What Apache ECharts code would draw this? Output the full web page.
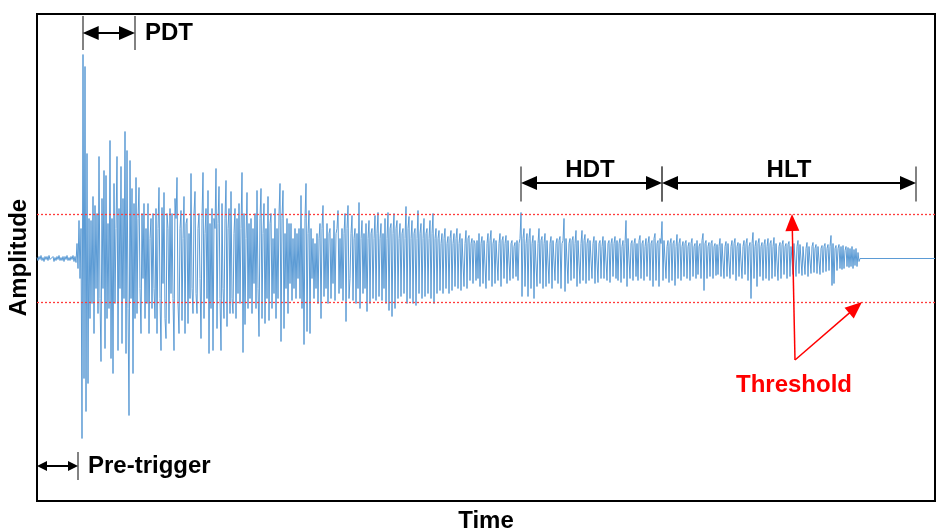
<!DOCTYPE html>
<html>
<head>
<meta charset="utf-8">
<script src="https://cdn.jsdelivr.net/npm/echarts@6/dist/echarts.min.js"></script>
<style>html,body{margin:0;padding:0;background:#fff}#c{width:937px;height:531px}</style>
</head>
<body>
<div id="c"></div>
<script>
// time step between samples (time units)
const sampleStep = 1;
// amplitude samples (arbitrary units, 0 = baseline), one per time step
const amplitude = [
  1,-2,2,-1,3,-2,1,-3,2,-1,2,-2,3,-1,1,-2,2,-3,1,-2,
  2,-1,3,-2,1,-2,2,-3,2,-1,3,-2,1,-2,2,-1,3,-3,2,-4,
  15,-10,38,-20,30,-180,204,-120,192,-153,105,-125,40,-60,38,-45,62,-75,53,-30,
  45,-55,102,-40,-103,60,-30,88,-90,83,-60,35,-50,118,-100,40,-115,75,-45,30,
  102,-92,50,-30,92,-85,60,-40,127,-95,108,-50,-157,98,-40,70,-115,55,-60,81,
  -55,40,71,-30,-75,45,-20,55,-60,30,-45,55,-75,20,40,-50,45,-30,-60,50,
  -75,30,71,-40,-92,51,-25,66,-60,-80,45,30,-65,50,-35,45,-40,-92,60,40,
  81,-45,-75,30,48,-62,20,62,-75,35,40,-65,25,-40,85,-30,-55,45,67,-35,
  -55,30,45,-20,-80,40,86,-60,25,50,-40,68,-95,35,-50,50,-92,40,30,90,
  -70,35,72,-40,-92,55,-30,-60,40,78,-68,30,50,-55,67,-40,-55,25,50,-60,
  40,-35,55,-45,30,86,-94,45,-66,20,66,-50,35,-40,40,-55,30,-25,45,-50,
  68,-30,-78,40,70,-60,25,55,-65,30,-40,62,-62,35,45,-50,20,-35,50,-60,
  30,-40,45,75,-83,40,68,-70,25,-30,40,-55,35,-25,35,-42,20,-30,30,-40,
  25,-20,30,-40,63,-50,30,-86,40,75,-73,25,48,-75,30,-20,20,-40,15,-30,
  25,-45,20,35,-60,30,53,-38,20,-30,35,-45,25,30,-40,20,-25,38,-42,25,
  30,48,-35,20,-30,30,-42,25,45,-63,30,53,-40,-20,25,43,-42,20,30,-45,
  25,-30,56,-50,20,38,-35,25,-30,35,-53,20,38,-45,25,30,-40,20,43,-42,
  25,46,-38,20,35,-42,25,-30,40,-45,20,46,-52,30,35,-58,25,45,-50,30,
  38,-40,20,35,-38,25,30,-35,20,52,-45,30,42,-40,20,38,-45,25,30,-47,
  20,48,-35,25,35,-40,20,40,-38,25,30,-35,20,38,-40,25,45,-45,20,30,
  -35,20,28,-32,15,25,-35,20,30,-30,15,22,-35,20,28,-32,15,25,-28,20,
  30,-30,15,25,-32,20,22,-28,15,28,-30,20,23,-22,15,20,-25,18,15,-22,
  18,-20,25,-28,15,22,-25,18,20,-30,15,25,-22,18,28,-28,15,20,-25,18,
  20,-22,15,25,-28,18,22,-20,15,23,-25,18,20,-22,15,18,-20,12,16,-18,
  18,-22,15,20,46,-38,20,30,-28,15,25,-38,20,30,-30,15,23,-40,18,20,
  -28,15,30,-25,18,22,-30,15,25,-28,18,20,-25,15,22,-30,18,20,-22,15,
  20,-25,18,22,-30,15,18,40,-33,20,18,-25,15,20,-22,18,22,-20,15,28,
  -28,18,20,-25,15,28,-22,18,24,-25,15,20,-22,18,18,-20,15,22,-25,18,
  20,-24,15,18,-20,12,22,-20,18,20,-22,15,18,-24,15,20,-18,15,22,-20,
  18,-22,15,20,-24,12,18,-20,15,38,-28,20,22,-20,15,18,-22,15,20,-18,
  15,-22,18,23,-20,15,18,-22,12,20,-18,15,22,-22,15,18,-28,20,25,-22,
  15,18,-28,20,15,37,-22,18,20,-20,12,18,-24,15,20,-22,15,18,-27,12,
  24,-20,15,20,-22,12,17,-18,15,18,-20,12,16,-22,15,20,-18,12,15,-20,
  18,-16,12,15,-20,18,25,-32,15,18,-20,12,16,-18,15,18,-20,12,15,-17,
  14,-16,12,20,-18,15,16,-20,12,17,-18,15,14,-20,12,18,-16,15,20,-22,
  12,16,-18,15,14,-20,12,18,-16,15,20,-22,12,16,-40,15,26,-20,12,18,
  -28,15,20,-18,12,16,-22,14,19,-20,12,20,-22,15,18,-20,12,21,-18,15,
  17,-22,12,16,-20,14,18,-16,12,15,-20,14,17,-18,12,14,-16,15,16,-18,
  12,18,-15,14,15,-17,12,14,-16,10,16,-18,12,14,-15,12,16,-14,10,14,
  -15,12,14,-16,10,13,-14,12,15,-13,10,14,-12,12,23,-27,15,-25,10,13,
  -12,10,14,-10,12,-11,13,-10,8,12,-8,11,-9,10,-8,12,-10,9,-7,10,
  -8,6,-3
];
// flat tail after the hit ends
const tailTimes = [823, 898];
const tailValues = [0, 0];
// detection thresholds
const thresholds = [44.5, -43.5];
// axis limits
const timeRange = [0, 898];
const ampRange = [-242.5, 244.5];

// annotation spans: [label, from, to, level, tickTop, tickBottom, headLength, headWidth]
const timeSpans = [
  ['PDT', 45.7, 98, 225.5, 242.5, 208.5, 16, 14],
  ['HDT', 484, 625, 75.5, 92, 57, 16, 14],
  ['HLT', 625, 879, 75.5, 92, 57, 16, 14],
  ['Pre-trigger', 0, 41, -207.5, -193.5, -221.5, 10, 10]
];
// labels: [text, t, v, align, color]
const labels = [
  ['PDT', 108, 225.5, 'left', '#000'],
  ['HDT', 553, 88.5, 'center', '#000'],
  ['HLT', 752, 88.5, 'center', '#000'],
  ['Pre-trigger', 51, -207.5, 'left', '#000'],
  ['Threshold', 757, -126.5, 'center', '#ff0000']
];
// threshold pointer arrows: [from, tip]
const pointerArrows = [
  [[758, -101.5], [755, 44.5]],
  [[758, -101.5], [825, -43.5]]
];

const signal = amplitude.map((v, i) => [i * sampleStep, v]);
tailTimes.forEach((t, i) => signal.push([t, tailValues[i]]));

// symbols are centred on the line end, so pull ends in by half a head length
function pull(a, b, d) {
  const dx = b[0] - a[0], dy = b[1] - a[1], L = Math.hypot(dx, dy);
  return [b[0] - dx / L * d, b[1] - dy / L * d];
}
const arrowData = [];
const tickData = [];
timeSpans.forEach(s => {
  const a = [s[1], s[3]], b = [s[2], s[3]], h = s[6] / 2;
  arrowData.push([
    {coord: pull(b, a, h), symbolSize: [s[7], s[6]]},
    {coord: pull(a, b, h), symbolSize: [s[7], s[6]]}
  ]);
  tickData.push([{coord: [s[2], s[4]]}, {coord: [s[2], s[5]]}]);
  if (s[1] > 0) tickData.push([{coord: [s[1], s[4]]}, {coord: [s[1], s[5]]}]);
});

const chart = echarts.init(document.getElementById('c'), null, {renderer: 'canvas'});
const font = '"Liberation Sans", Arial, sans-serif';
chart.setOption({
  animation: false,
  backgroundColor: '#fff',
  grid: {left: 37, right: 2, top: 14, bottom: 30, outerBoundsMode: 'none', containLabel: false,
    show: true, borderColor: '#000', borderWidth: 2, backgroundColor: 'transparent'},
  xAxis: {
    type: 'value', min: timeRange[0], max: timeRange[1],
    axisLine: {show: false}, axisTick: {show: false}, axisLabel: {show: false}, splitLine: {show: false},
    name: 'Time', nameLocation: 'middle', nameGap: 8,
    nameTextStyle: {fontFamily: font, fontWeight: 'bold', fontSize: 24, color: '#000', verticalAlign: 'top'}
  },
  yAxis: {
    type: 'value', min: ampRange[0], max: ampRange[1],
    axisLine: {show: false}, axisTick: {show: false}, axisLabel: {show: false}, splitLine: {show: false},
    name: 'Amplitude', nameLocation: 'middle', nameGap: 6, nameRotate: 90,
    nameTextStyle: {fontFamily: font, fontWeight: 'bold', fontSize: 24, color: '#000'}
  },
  series: [
    {
      type: 'line', data: signal, symbol: 'none', silent: true,
      lineStyle: {color: '#5b9bd5', width: 1}, z: 2,
      markLine: {
        silent: true, symbol: 'none', label: {show: false},
        lineStyle: {color: '#ff3b3b', type: [2, 2], width: 1.3},
        data: thresholds.map(v => ({yAxis: v}))
      }
    },
    {
      type: 'line', data: [], silent: true,
      markLine: {
        silent: true, symbol: 'none', label: {show: false}, animation: false,
        lineStyle: {color: '#595959', type: 'solid', width: 1.5},
        data: tickData
      }
    },
    {
      type: 'line', data: [], silent: true,
      markLine: {
        silent: true, symbol: ['triangle', 'triangle'], label: {show: false}, animation: false,
        itemStyle: {color: '#000'},
        lineStyle: {color: '#000', type: 'solid', width: 2},
        data: arrowData
      }
    },
    {
      type: 'line', data: [], silent: true,
      markLine: {
        silent: true, symbol: ['none', 'triangle'], symbolSize: [14, 17], label: {show: false}, animation: false,
        itemStyle: {color: '#ff0000'},
        lineStyle: {color: '#ff0000', type: 'solid', width: 1.5},
        data: pointerArrows.map(a => [{coord: a[0]}, {coord: pull(a[0], a[1], 8.5)}])
      }
    }
  ]
});

const texts = labels.map(l => {
  const p = chart.convertToPixel({gridIndex: 0}, [l[1], l[2]]);
  return {
    type: 'text', x: p[0], y: p[1], z: 10, silent: true,
    style: {text: l[0], fill: l[4], font: 'bold 24px ' + font, align: l[3], verticalAlign: 'middle'}
  };
});
chart.setOption({graphic: texts});
</script>
</body>
</html>
